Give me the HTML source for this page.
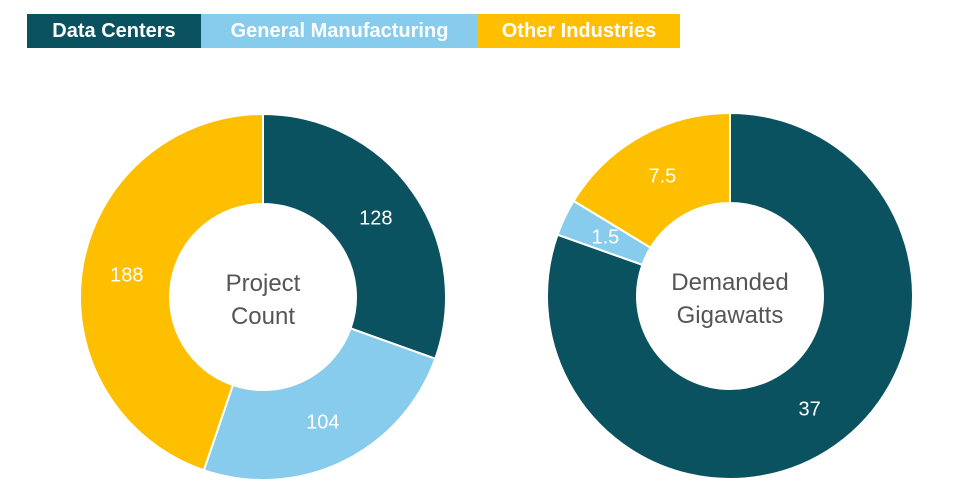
<!DOCTYPE html>
<html><head><meta charset="utf-8"><style>
body{margin:0;width:960px;height:504px;background:#fff;font-family:"Liberation Sans",sans-serif;overflow:hidden}
#legend{position:absolute;left:27px;top:14px;height:34px;display:flex}
.lg{height:34px;line-height:34px;font-weight:bold;font-size:20px;color:#fff;padding:0 0 0 0;text-align:center}
</style></head><body>
<div id="legend">
<div class="lg" style="background:#0b5260;width:174px">Data Centers</div>
<div class="lg" style="background:#87ccec;width:277px">General Manufacturing</div>
<div class="lg" style="background:#fdbf00;width:202px">Other Industries</div>
</div>
<svg id="chart" width="960" height="504" style="position:absolute;left:0;top:0"></svg>
<script>
const categories=["Data Centers","General Manufacturing","Other Industries"];
const projectCount=[128,104,188];
const gigawatts=[37,1.5,7.5];
const labelsCount=["128","104","188"];
const labelsGw=["37","1.5","7.5"];
const colors=["#0b5260","#87ccec","#fdbf00"];
const NS="http://www.w3.org/2000/svg";
const svg=document.getElementById('chart');
function pt(cx,cy,r,a){return [cx+r*Math.sin(a),cy-r*Math.cos(a)];}
function donut(cx,cy,vals,labs,title,name){
  const g=document.createElementNS(NS,'g');
  
  
  svg.appendChild(g);
  const R=183,r=93,tot=vals.reduce((a,b)=>a+b,0);
  let a0=0;
  vals.forEach((v,i)=>{
    const a1=a0+v/tot*2*Math.PI,lg=(a1-a0)>Math.PI?1:0;
    const [x0,y0]=pt(cx,cy,R,a0),[x1,y1]=pt(cx,cy,R,a1),[x2,y2]=pt(cx,cy,r,a1),[x3,y3]=pt(cx,cy,r,a0);
    const p=document.createElementNS(NS,'path');
    p.setAttribute('d',`M${x0},${y0}A${R},${R} 0 ${lg} 1 ${x1},${y1}L${x2},${y2}A${r},${r} 0 ${lg} 0 ${x3},${y3}Z`);
    p.setAttribute('fill',colors[i]);p.setAttribute('stroke','#fff');p.setAttribute('stroke-width','2');
    
    
    g.appendChild(p);
    const [lx,ly]=pt(cx,cy,138,(a0+a1)/2);
    const t=document.createElementNS(NS,'text');
    t.setAttribute('x',lx);t.setAttribute('y',ly+7);t.setAttribute('text-anchor','middle');
    t.setAttribute('fill','#fff');t.setAttribute('font-size','20');t.textContent=labs[i];
    
    
    g.appendChild(t);
    a0=a1;
  });
  title.forEach((s,k)=>{
    const t=document.createElementNS(NS,'text');
    t.setAttribute('x',cx);t.setAttribute('y',cy-6+k*33);t.setAttribute('text-anchor','middle');
    t.setAttribute('fill','#555');t.setAttribute('font-size','24');t.textContent=s;
    
    
    g.appendChild(t);
  });
}
donut(263,297,projectCount,labelsCount,["Project","Count"],'project-count-donut');
donut(730,296,gigawatts,labelsGw,["Demanded","Gigawatts"],'gigawatts-donut');
</script>
</body></html>
